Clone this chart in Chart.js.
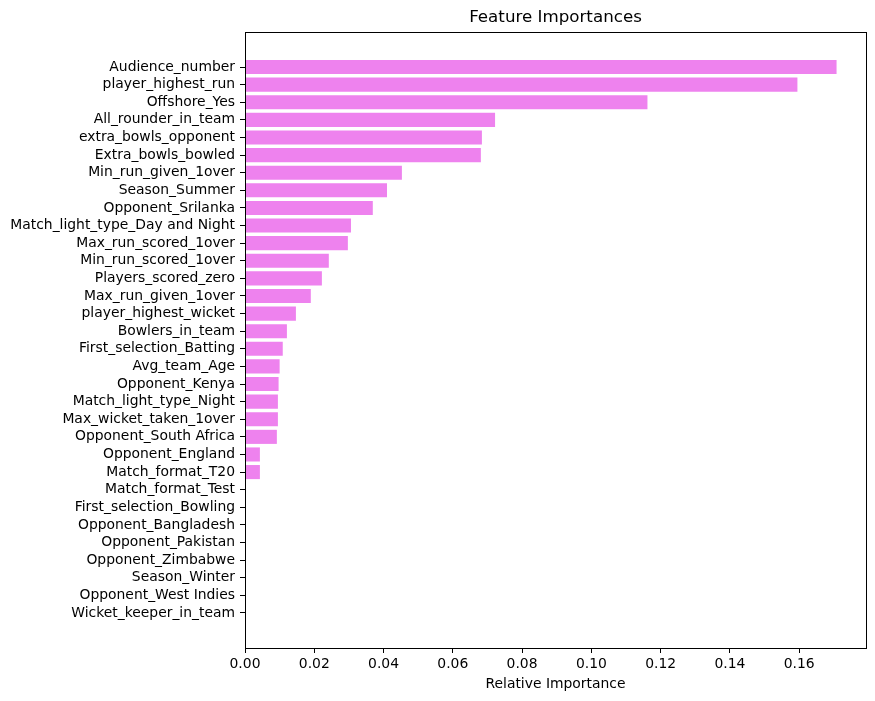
<!DOCTYPE html>
<html>
<head>
<meta charset="utf-8">
<script src="https://cdn.jsdelivr.net/npm/chart.js@4"></script>
<style>
  html, body { margin: 0; padding: 0; background: #fff; }
  #wrap { width: 875px; height: 701px; }
</style>
</head>
<body>
<div id="wrap"><canvas id="chart" width="875" height="701"></canvas></div>
<script>
const features = [
  "Audience_number", "player_highest_run", "Offshore_Yes", "All_rounder_in_team",
  "extra_bowls_opponent", "Extra_bowls_bowled", "Min_run_given_1over", "Season_Summer",
  "Opponent_Srilanka", "Match_light_type_Day and Night", "Max_run_scored_1over",
  "Min_run_scored_1over", "Players_scored_zero", "Max_run_given_1over",
  "player_highest_wicket", "Bowlers_in_team", "First_selection_Batting", "Avg_team_Age",
  "Opponent_Kenya", "Match_light_type_Night", "Max_wicket_taken_1over",
  "Opponent_South Africa", "Opponent_England", "Match_format_T20", "Match_format_Test",
  "First_selection_Bowling", "Opponent_Bangladesh", "Opponent_Pakistan",
  "Opponent_Zimbabwe", "Season_Winter", "Opponent_West Indies", "Wicket_keeper_in_team"
];
const importances = [
  0.1708, 0.1595, 0.1162, 0.0722, 0.0684, 0.0681, 0.0453, 0.0410,
  0.0369, 0.0306, 0.0297, 0.0242, 0.0222, 0.0190, 0.0147, 0.0121,
  0.0109, 0.0100, 0.0097, 0.0095, 0.0095, 0.0092, 0.0043, 0.0043,
  0, 0, 0, 0, 0, 0, 0, 0
];
const xTicks = [0, 0.02, 0.04, 0.06, 0.08, 0.10, 0.12, 0.14, 0.16];
const xMax = 0.1793;

const FONT = "'DejaVu Sans', sans-serif";
Chart.defaults.font.family = FONT;
Chart.defaults.color = "#000";

// frame around the axes and the title over the plot area
const frame = {
  id: "frame",
  afterDraw(chart) {
    const { ctx, chartArea: a } = chart;
    ctx.save();
    ctx.strokeStyle = "#000";
    ctx.lineWidth = 1;
    ctx.strokeRect(Math.round(a.left) + 0.5, Math.round(a.top) + 0.5,
      Math.round(a.right - a.left), Math.round(a.bottom - a.top));
    ctx.font = "16.7px " + FONT;
    ctx.fillStyle = "#000";
    ctx.textAlign = "center";
    ctx.textBaseline = "middle";
    ctx.fillText("Feature Importances", (a.left + a.right) / 2, 18);
    ctx.restore();
  }
};

const points = importances.map((v, i) => ({ x: v, y: i }));

new Chart(document.getElementById("chart"), {
  type: "bar",
  data: {
    datasets: [{
      data: points,
      backgroundColor: "#ee82ee",
      borderWidth: 0,
      categoryPercentage: 1,
      barPercentage: 0.8
    }]
  },
  options: {
    indexAxis: "y",
    responsive: false,
    animation: false,
    events: [],
    layout: { padding: { top: 32, right: 9, bottom: 0, left: 0 } },
    plugins: { legend: { display: false }, tooltip: { enabled: false } },
    scales: {
      x: {
        type: "linear",
        min: 0,
        max: xMax,
        bounds: "data",
        afterBuildTicks: s => { s.ticks = xTicks.map(v => ({ value: v })); },
        afterFit: s => { s.height = 53; },
        grid: { drawOnChartArea: false, drawTicks: true, tickLength: 5, color: "#000" },
        border: { display: true, color: "#000" },
        ticks: {
          font: { size: 13.9 },
          padding: 3,
          maxRotation: 0,
          callback: v => Number(v).toFixed(2)
        },
        title: {
          display: true,
          text: "Relative Importance",
          font: { size: 13.9 },
          padding: { top: 0, bottom: 8 }
        }
      },
      y: {
        type: "linear",
        reverse: true,
        offset: false,
        bounds: "data",
        min: -1.99,
        max: 32.99,
        afterBuildTicks: s => { s.ticks = features.map((f, i) => ({ value: i })); },
        afterFit: s => { s.width = 245; },
        grid: { drawOnChartArea: false, drawTicks: true, tickLength: 5, color: "#000", offset: false },
        border: { display: true, color: "#000" },
        ticks: {
          font: { size: 13.9 },
          padding: 5,
          autoSkip: false,
          callback: v => features[v] ?? ""
        }
      }
    }
  },
  plugins: [frame]
});
</script>
</body>
</html>
